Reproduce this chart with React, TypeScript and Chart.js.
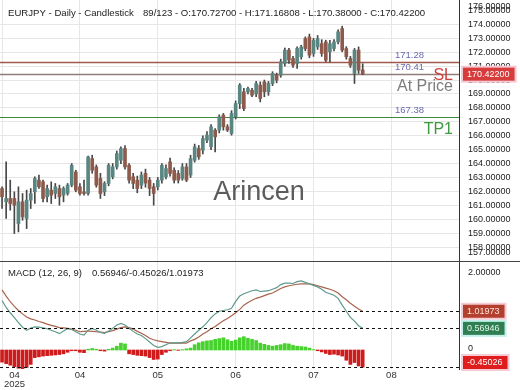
import React, { useEffect, useRef } from "react";
import { Chart, registerables } from "chart.js";
Chart.register(...registerables);

const FF = '"Liberation Sans", Arial, sans-serif';

// ---- data ----
const opens = [162.21,161.25,161.49,161.49,159.69,161.25,160.05,161.37,161.97,162.81,162.69,161.61,162.09,161.85,162.21,161.73,161.85,162.45,163.40,162.33,161.97,161.85,164.36,163.76,162.93,161.97,162.57,163.05,163.76,164.24,165.08,163.88,163.05,162.81,162.45,163.30,162.81,162.33,162.33,162.81,163.05,164.12,163.52,163.29,162.93,163.76,163.17,164.24,165.08,164.96,165.68,165.20,166.40,166.40,167.48,166.64,166.16,167.36,168.31,169.15,169.15,169.27,169.00,169.63,169.87,169.15,169.75,170.35,170.35,171.19,172.15,171.55,171.19,171.67,172.98,173.10,171.91,172.38,172.62,172.74,172.03,172.26,172.74,173.70,172.26,171.55,170.47,172.15,170.727];
const highs = [162.33,164.12,162.81,161.97,162.33,161.85,162.09,162.21,163.05,163.17,162.81,162.45,162.69,162.57,162.45,162.33,162.57,164.00,163.52,162.57,162.81,164.54,164.60,163.90,163.30,162.70,164.00,164.00,164.90,165.20,165.30,164.00,163.30,163.10,163.40,163.60,163.00,162.57,163.00,164.00,163.90,164.40,163.70,163.50,164.00,164.00,164.60,165.40,165.30,166.00,166.30,166.80,166.52,167.50,167.60,166.80,167.80,168.50,169.75,169.40,169.50,169.40,169.90,169.87,170.00,169.90,170.60,170.50,171.50,172.30,172.27,171.70,172.38,172.50,173.10,173.30,173.00,173.20,172.90,172.86,172.86,172.90,173.60,173.87,172.40,171.70,172.27,172.38,171.168];
const lows = [160.77,160.05,160.65,158.97,159.09,159.93,159.33,160.77,161.13,162.21,161.25,161.25,161.13,161.49,161.01,161.25,161.73,162.33,161.97,161.73,161.73,161.73,163.30,162.30,161.49,161.70,162.40,162.90,163.60,164.00,163.60,162.60,162.20,161.90,162.20,162.30,161.70,161.01,162.10,162.60,162.90,163.10,162.60,162.60,162.80,162.70,163.00,164.10,164.30,164.70,165.50,165.00,164.84,166.20,166.40,166.30,166.04,167.20,167.95,167.80,169.00,168.80,168.80,168.43,168.80,168.90,169.60,169.80,170.20,171.00,171.19,170.90,170.83,171.50,172.10,171.60,171.70,172.20,171.70,171.31,171.31,172.10,172.60,172.03,171.50,170.90,169.75,170.47,170.38];
const closes = [161.61,161.49,161.13,161.01,161.25,160.17,161.37,161.85,162.93,162.33,161.49,162.21,161.73,162.33,161.61,162.21,162.45,163.88,162.09,161.85,161.85,164.48,163.52,162.45,161.85,162.57,163.88,163.76,164.72,165.08,163.76,162.81,162.57,162.21,163.17,162.60,162.21,161.85,162.81,163.88,163.64,163.29,162.81,162.81,163.76,162.81,164.36,165.20,164.48,165.80,166.04,166.64,165.92,167.36,166.64,166.40,167.60,168.31,169.63,167.95,169.39,168.91,169.75,168.67,169.15,169.75,170.47,169.99,171.31,172.15,171.43,171.07,172.27,172.38,172.26,171.79,172.86,172.98,171.91,171.43,172.62,172.74,173.46,172.15,171.67,171.07,172.15,170.71,170.422];

const macdLine = [1.30,1.12,0.98,0.85,0.72,0.60,0.52,0.58,0.61,0.60,0.58,0.56,0.52,0.48,0.43,0.50,0.56,0.54,0.48,0.42,0.39,0.52,0.57,0.52,0.46,0.44,0.50,0.57,0.66,0.70,0.66,0.57,0.49,0.42,0.38,0.30,0.21,0.12,0.07,0.09,0.14,0.19,0.19,0.19,0.20,0.22,0.32,0.42,0.52,0.61,0.72,0.85,0.95,1.02,1.04,1.06,1.10,1.28,1.42,1.48,1.52,1.56,1.58,1.54,1.55,1.56,1.60,1.64,1.72,1.76,1.76,1.75,1.80,1.82,1.78,1.74,1.70,1.66,1.60,1.52,1.48,1.44,1.36,1.18,1.02,0.86,0.76,0.64,0.56946];
const signalLine = [1.58,1.42,1.27,1.15,1.04,0.95,0.87,0.82,0.79,0.75,0.72,0.68,0.65,0.62,0.59,0.58,0.57,0.55,0.52,0.48,0.49,0.50,0.49,0.48,0.47,0.46,0.48,0.51,0.55,0.59,0.61,0.59,0.55,0.49,0.44,0.38,0.31,0.27,0.24,0.22,0.20,0.18,0.18,0.18,0.18,0.18,0.24,0.28,0.34,0.42,0.48,0.56,0.62,0.70,0.77,0.83,0.90,0.98,1.07,1.18,1.25,1.31,1.36,1.39,1.43,1.47,1.50,1.56,1.62,1.66,1.69,1.71,1.73,1.74,1.74,1.74,1.72,1.69,1.66,1.63,1.60,1.56,1.50,1.40,1.32,1.23,1.15,1.08,1.01973];
const histogram = [-0.32,-0.36,-0.40,-0.44,-0.48,-0.50,-0.46,-0.38,-0.20,-0.18,-0.16,-0.15,-0.14,-0.13,-0.12,-0.10,-0.06,-0.02,-0.02,-0.06,-0.07,0.02,0.04,0.02,-0.02,-0.03,0.02,0.05,0.10,0.18,0.16,-0.10,-0.12,-0.14,-0.15,-0.16,-0.20,-0.25,-0.24,-0.12,-0.06,-0.02,0.01,-0.01,0.01,0.03,0.05,0.14,0.19,0.22,0.24,0.25,0.28,0.30,0.32,0.27,0.23,0.26,0.32,0.35,0.31,0.28,0.25,0.18,0.15,0.12,0.10,0.12,0.14,0.17,0.16,0.12,0.10,0.09,0.08,0.05,0.01,-0.02,-0.05,-0.09,-0.12,-0.11,-0.13,-0.16,-0.27,-0.38,-0.33,-0.42,-0.45026];

const monthTickIndex = [0, 19, 38, 57, 76, 95];
const monthTickLabels = [["04", "2025"], ["04"], ["05"], ["06"], ["07"], ["08"]];
const priceTickValues = [157,158,159,160,161,162,163,164,165,166,167,168,169,170,171,172,173,174,175,176];
const macdTickValues = [0, 2];
const macdTickLabels = ["0", "2.00000"];

const levelValues = [171.28, 170.41, 167.38];
const levelLabels = ["171.28", "170.41", "167.38"];
const lastPrice = 170.422;
const macdValue = 0.56946;
const histValue = -0.45026;
const signalValue = 1.01973;

const titleLeft = "EURJPY - Daily - Candlestick";
const titleRight = "89/123 - O:170.72700 - H:171.16808 - L:170.38000 - C:170.42200";
const macdTitle = "MACD (12, 26, 9)";
const macdValuesText = "0.56946/-0.45026/1.01973";

// ---- styles ----
const UP = "#5a8682";
const DOWN = "#8d5a4b";
const WICK = "#474747";
const GRID = "#e6e6e6";
const AXIS = "#333333";
const LEVEL_COLORS = ["#a05a4c", "#8c7f7a", "#3d8a3d"];

const idx = opens.map((_, i) => i);

function font(size: number) {
  return `${size}px ${FF}`;
}

function drawBox(ctx: CanvasRenderingContext2D, label: string, cy: number, top: number, bottom: number, bg: string, fg: string, glow: string) {
  ctx.font = font(9);
  const w = ctx.measureText(label).width + 9;
  const h = 13;
  let y0 = cy - h / 2;
  y0 = Math.max(top, Math.min(bottom - h, y0));
  const x0 = 463;
  ctx.fillStyle = glow;
  ctx.fillRect(x0 - 2, y0 - 2, w + 4, h + 4);
  ctx.fillStyle = bg;
  ctx.fillRect(x0, y0, w, h);
  ctx.fillStyle = fg;
  ctx.textAlign = "left";
  ctx.textBaseline = "middle";
  ctx.fillText(label, x0 + 4, y0 + h / 2 + 0.5);
}

const mainUnder = {
  id: "mainUnder",
  beforeDatasetsDraw(chart: any) {
    const { ctx, chartArea: a, scales } = chart;
    const y = scales.y;
    ctx.save();
    levelValues.forEach((v, k) => {
      const py = Math.round(y.getPixelForValue(v)) + 0.5;
      ctx.strokeStyle = LEVEL_COLORS[k];
      ctx.lineWidth = k === 2 ? 1.2 : 1.5;
      ctx.beginPath();
      ctx.moveTo(a.left, py);
      ctx.lineTo(a.right, py);
      ctx.stroke();
    });
    ctx.restore();
  },
};

const mainOverlay = {
  id: "mainOverlay",
  afterDraw(chart: any) {
    const { ctx, chartArea: a, scales } = chart;
    const y = scales.y;
    ctx.save();
    // level labels
    ctx.font = font(9.5);
    ctx.fillStyle = "#6a6ab0";
    ctx.textAlign = "right";
    ctx.textBaseline = "middle";
    levelValues.forEach((v, k) => {
      ctx.fillText(levelLabels[k], 424, y.getPixelForValue(v) - 6.5);
    });
    // SL / At Price / TP1
    ctx.font = font(16);
    ctx.textBaseline = "alphabetic";
    ctx.textAlign = "right";
    ctx.fillStyle = "#cf4141";
    ctx.fillText("SL", 453, y.getPixelForValue(levelValues[1]) + 5.8);
    ctx.fillStyle = "#7d7d7d";
    ctx.fillText("At Price", 453, y.getPixelForValue(levelValues[1]) + 17);
    ctx.fillStyle = "#3f9a3f";
    ctx.fillText("TP1", 453, y.getPixelForValue(levelValues[2]) + 17.5);
    // watermark
    ctx.font = font(27);
    ctx.fillStyle = "#5c5c5c";
    ctx.textAlign = "center";
    ctx.textBaseline = "middle";
    ctx.fillText("Arincen", 259, 193);
    // title
    ctx.font = font(9.6);
    ctx.fillStyle = "#222";
    ctx.textAlign = "left";
    ctx.textBaseline = "alphabetic";
    ctx.fillText(titleLeft, 8, 16);
    ctx.fillText(titleRight, 143, 16);
    // y tick labels
    ctx.font = font(9);
    ctx.fillStyle = "#222";
    ctx.textBaseline = "middle";
    priceTickValues.forEach((v) => {
      let py = y.getPixelForValue(v);
      py = Math.max(6.5, Math.min(a.bottom - 8, py));
      ctx.fillText(v.toFixed(5), 468, py);
    });
    // last price box
    drawBox(ctx, lastPrice.toFixed(5), y.getPixelForValue(lastPrice), a.top, a.bottom, "#d63c3c", "#ffffff", "#f6c9d2");
    ctx.restore();
  },
};

const macdOverlay = {
  id: "macdOverlay",
  afterDraw(chart: any) {
    const { ctx, chartArea: a, scales, width } = chart;
    const y = scales.y;
    const x = scales.x;
    ctx.save();
    // separator
    ctx.strokeStyle = "#444";
    ctx.lineWidth = 1;
    ctx.beginPath();
    ctx.moveTo(0, 0.5);
    ctx.lineTo(width, 0.5);
    ctx.stroke();
    // dashed value lines
    ctx.strokeStyle = "#111";
    ctx.lineWidth = 1.2;
    ctx.setLineDash([3, 3]);
    [signalValue, macdValue, histValue].forEach((v) => {
      const py = Math.round(y.getPixelForValue(v)) + 0.5;
      ctx.beginPath();
      ctx.moveTo(a.left, py);
      ctx.lineTo(a.right, py);
      ctx.stroke();
    });
    ctx.setLineDash([]);
    // header
    ctx.font = font(9.5);
    ctx.fillStyle = "#222";
    ctx.textAlign = "left";
    ctx.textBaseline = "alphabetic";
    ctx.fillText(macdTitle, 8, 15);
    ctx.fillText(macdValuesText, 92, 15);
    // y labels
    ctx.font = font(9);
    ctx.textBaseline = "middle";
    macdTickValues.forEach((v, k) => {
      ctx.fillText(macdTickLabels[k], 468, y.getPixelForValue(v) - 1.5);
    });
    drawBox(ctx, signalValue.toFixed(5), y.getPixelForValue(signalValue), a.top, a.bottom, "#b3402e", "#fbe2d8", "#f6ccd4");
    drawBox(ctx, macdValue.toFixed(5), y.getPixelForValue(macdValue), a.top, a.bottom, "#2f7f52", "#e2f6ea", "#c3f1ea");
    drawBox(ctx, histValue.toFixed(5), y.getPixelForValue(histValue), a.top, a.bottom, "#e01c1c", "#ffffff", "#f6ccd4");
    // x labels
    ctx.font = font(9.5);
    ctx.fillStyle = "#333";
    ctx.textAlign = "center";
    monthTickIndex.forEach((v, k) => {
      const lines = monthTickLabels[k];
      let maxW = 0;
      lines.forEach((s) => (maxW = Math.max(maxW, ctx.measureText(s).width)));
      const cx = Math.max(x.getPixelForValue(v), 4 + maxW / 2);
      lines.forEach((s, j) => ctx.fillText(s, cx, a.bottom + 6.5 + j * 8.5));
    });
    ctx.restore();
  },
};

function xScale() {
  return {
    type: "linear" as const,
    min: -0.5,
    max: 111.5,
    offset: false,
    grid: { color: GRID, drawTicks: false, offset: false },
    border: { display: false },
    ticks: { display: false },
    afterBuildTicks: (s: any) => {
      s.ticks = monthTickIndex.map((v) => ({ value: v }));
    },
    afterFit: (s: any) => {
      s.height = 0;
    },
  };
}

export default function App() {
  const mainRef = useRef<HTMLCanvasElement>(null);
  const macdRef = useRef<HTMLCanvasElement>(null);

  useEffect(() => {
    const wickData = idx.map((i) => ({ x: i, y: [lows[i], highs[i]] }));
    const bodyData = idx.map((i) => ({ x: i, y: [Math.min(opens[i], closes[i]), Math.max(opens[i], closes[i])] }));
    const bodyColors = idx.map((i) => (closes[i] >= opens[i] ? UP : DOWN));

    const main = new Chart(mainRef.current!, {
      type: "bar",
      data: {
        datasets: [
          { type: "bar", data: wickData as any, backgroundColor: WICK, barThickness: 1, grouped: false, order: 2 },
          { type: "bar", data: bodyData as any, backgroundColor: bodyColors, barThickness: 3, minBarLength: 1, grouped: false, order: 1 },
        ],
      },
      options: {
        responsive: false,
        animation: false,
        devicePixelRatio: 1,
        events: [],
        layout: { padding: 0 },
        plugins: { legend: { display: false }, tooltip: { enabled: false } },
        scales: {
          x: xScale() as any,
          y: {
            type: "linear",
            position: "right",
            min: 157,
            max: 175.75,
            ticks: { display: false, stepSize: 1 },
            grid: { color: GRID, drawTicks: false },
            border: { display: true, color: AXIS, width: 1 },
            afterBuildTicks: (s: any) => {
              s.ticks = s.ticks.filter((t: any) => Number.isInteger(t.value));
            },
            afterFit: (s: any) => {
              s.width = 61;
            },
          } as any,
        },
      },
      plugins: [mainUnder, mainOverlay],
    });

    const macd = new Chart(macdRef.current!, {
      type: "bar",
      data: {
        datasets: [
          {
            type: "bar",
            data: idx.map((i) => ({ x: i, y: histogram[i] })) as any,
            backgroundColor: histogram.map((v) => (v < 0 ? "#cf1b1b" : "#46d12c")),
            barThickness: 3,
            grouped: false,
            order: 3,
          },
          {
            type: "line",
            data: idx.map((i) => ({ x: i, y: signalLine[i] })) as any,
            borderColor: "#a8634d",
            borderWidth: 1.2,
            pointRadius: 0,
            tension: 0,
            order: 2,
          },
          {
            type: "line",
            data: idx.map((i) => ({ x: i, y: macdLine[i] })) as any,
            borderColor: "#5f9a8c",
            borderWidth: 1.2,
            pointRadius: 0,
            tension: 0,
            order: 1,
          },
        ],
      },
      options: {
        responsive: false,
        animation: false,
        devicePixelRatio: 1,
        events: [],
        layout: { padding: { top: 0, left: 0, right: 0, bottom: 21 } },
        plugins: { legend: { display: false }, tooltip: { enabled: false } },
        scales: {
          x: xScale() as any,
          y: {
            type: "linear",
            position: "right",
            min: -0.5,
            max: 2.342,
            ticks: { display: false },
            grid: { display: false },
            border: { display: true, color: AXIS, width: 1 },
            afterFit: (s: any) => {
              s.width = 61;
            },
          } as any,
        },
      },
      plugins: [macdOverlay],
    });

    return () => {
      main.destroy();
      macd.destroy();
    };
  }, []);

  return (
    <div style={{ position: "absolute", left: 0, top: 0, width: 520, height: 390, background: "#fff" }}>
      <canvas ref={mainRef} width={520} height={261} style={{ position: "absolute", left: 0, top: 0, width: 520, height: 261 }} />
      <canvas ref={macdRef} width={520} height={129} style={{ position: "absolute", left: 0, top: 261, width: 520, height: 129 }} />
    </div>
  );
}
